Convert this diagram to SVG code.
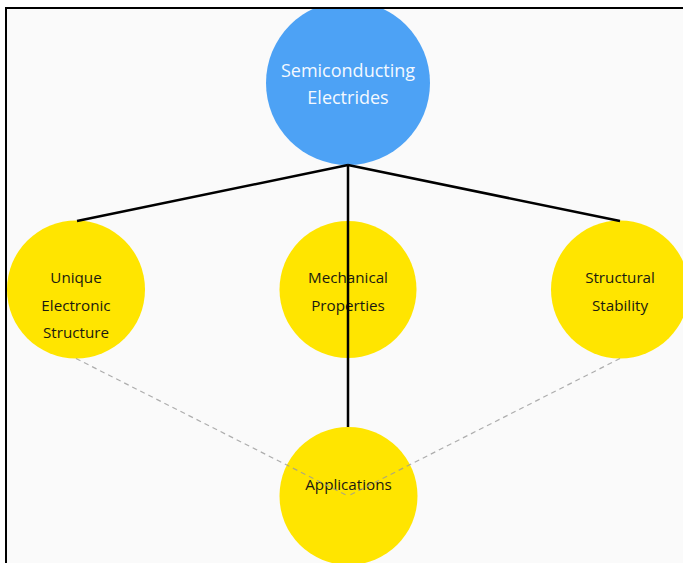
<svg xmlns="http://www.w3.org/2000/svg" width="683" height="563" viewBox="0 0 683 563">
  <style>
    .node-y { fill: #ffe500; }
    .node-b { fill: #4da2f5; }
    .lbl { font-family: "Open Sans", "Noto Sans", sans-serif; font-size: 15.2px; text-anchor: middle; dominant-baseline: central; fill: #1a1a10; }
    .lbl-b { font-family: "Open Sans", "Noto Sans", sans-serif; font-size: 18px; text-anchor: middle; dominant-baseline: central; fill: #f4f9ff; }
    .solid { stroke: #000; stroke-width: 2.5; fill: none; }
    .dash { stroke: #9a9a9a; stroke-opacity: 0.8; stroke-width: 1.2; stroke-dasharray: 5 4; fill: none; }
  </style>
  <defs>
    <clipPath id="frame">
      <rect x="7" y="9" width="700" height="600"/>
    </clipPath>
  </defs>
  <rect x="0" y="0" width="683" height="563" fill="#ffffff"/>
  <rect x="7" y="9" width="700" height="600" fill="#fafafa"/>
  <g clip-path="url(#frame)">
    <g id="node-semiconducting-electrides">
      <circle class="node-b" cx="348" cy="83" r="82"/>
      <text class="lbl-b" x="348" y="70">Semiconducting</text>
      <text class="lbl-b" x="348" y="97">Electrides</text>
    </g>
    <g id="node-unique-electronic-structure">
      <circle class="node-y" cx="76" cy="289.5" r="69"/>
      <text class="lbl" x="76" y="277">Unique</text>
      <text class="lbl" x="76" y="304.5">Electronic</text>
      <text class="lbl" x="76" y="332">Structure</text>
    </g>
    <g id="node-mechanical-properties">
      <circle class="node-y" cx="348" cy="289.5" r="68.5"/>
      <text class="lbl" x="348" y="277">Mechanical</text>
      <text class="lbl" x="348" y="304.5">Properties</text>
    </g>
    <g id="node-structural-stability">
      <circle class="node-y" cx="620" cy="289.5" r="69"/>
      <text class="lbl" x="620" y="277">Structural</text>
      <text class="lbl" x="620" y="304.5">Stability</text>
    </g>
    <g id="node-applications">
      <circle class="node-y" cx="348.5" cy="496" r="69"/>
      <text class="lbl" x="348.5" y="484">Applications</text>
    </g>
    <g id="connectors">
      <line class="solid" x1="348" y1="165" x2="77" y2="221"/>
      <line class="solid" x1="348" y1="165" x2="620" y2="221"/>
      <line class="solid" x1="348" y1="165" x2="348" y2="427"/>
      <line class="dash" x1="76" y1="358.5" x2="348" y2="496"/>
      <line class="dash" x1="620" y1="358.5" x2="348" y2="496"/>
    </g>
  </g>
  <g id="border">
    <line x1="6" y1="8" x2="683" y2="8" stroke="#000" stroke-width="2"/>
    <line x1="6" y1="7" x2="6" y2="563" stroke="#000" stroke-width="2"/>
  </g>
</svg>
